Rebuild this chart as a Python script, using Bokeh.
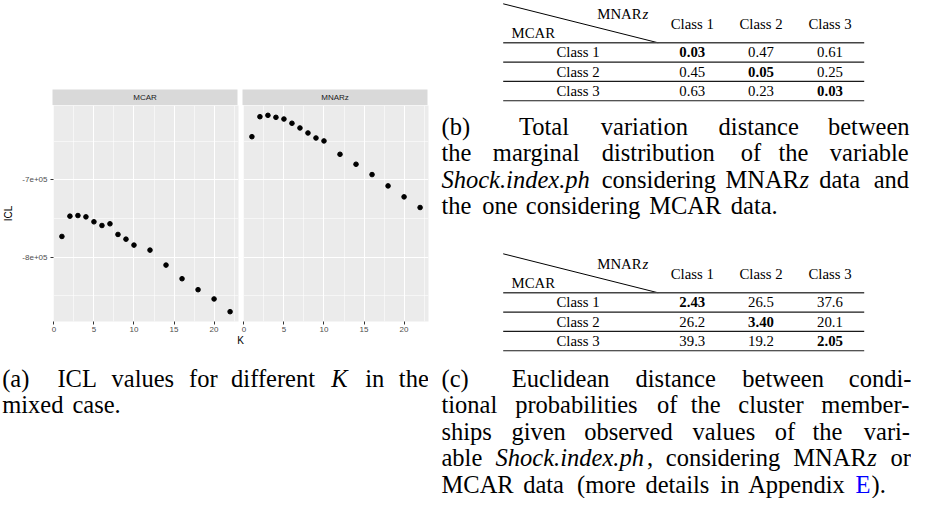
from bokeh.plotting import figure
from bokeh.layouts import column, row
from bokeh.models import Range1d, FixedTicker, ColumnDataSource, Spacer
from bokeh.core.properties import value
from bokeh.embed import file_html
from bokeh.resources import INLINE

# ---------------- data ----------------
K = [1, 2, 3, 4, 5, 6, 7, 8, 9, 10, 12, 14, 16, 18, 20, 22]
icl_mcar = [-773300, -747000, -746200, -747900, -754300, -759100, -756900, -770700,
            -776800, -784500, -791000, -810400, -828100, -842300, -854300, -870800]
icl_mnarz = [-644000, -618100, -616300, -618900, -621100, -626600, -632700, -639200,
             -645700, -649500, -666800, -679700, -693100, -707800, -722000, -735800]
facet_names = ["MCAR", "MNARz"]
x_ticks = [0, 5, 10, 15, 20]
x_minor = [2.5, 7.5, 12.5, 17.5, 22.5]
y_ticks = [-800000, -700000]
y_tick_labels = ["-8e+05", "-7e+05"]
y_minor = [-850000, -750000, -650000]
x_title = "K"
y_title = "ICL"

table_corner_top = [("MNAR", "rm"), ("z", "math")]
table_corner_bottom = "MCAR"
table_cols = ["Class 1", "Class 2", "Class 3"]
table_rows = ["Class 1", "Class 2", "Class 3"]
tv_values = [["0.03", "0.47", "0.61"], ["0.45", "0.05", "0.25"], ["0.63", "0.23", "0.03"]]
ed_values = [["2.43", "26.5", "37.6"], ["26.2", "3.40", "20.1"], ["39.3", "19.2", "2.05"]]

caption_a = [
    ["(a)", "ICL", "values", "for", "different", [("K", "math")], "in", "the"],
    ["mixed", "case."],
]
caption_b = [
    ["(b)", "Total", "variation", "distance", "between"],
    ["the", "marginal", "distribution", "of", "the", "variable"],
    [[("Shock.index.ph", "it")], "considering", [("MNAR", "rm"), ("z", "math")], "data", "and"],
    ["the", "one", "considering", "MCAR", "data."],
]
caption_c = [
    ["(c)", "Euclidean", "distance", "between", "condi-"],
    ["tional", "probabilities", "of", "the", "cluster", "member-"],
    ["ships", "given", "observed", "values", "of", "the", "vari-"],
    ["able", [("Shock.index.ph", "it"), (",", "rm")], "considering", [("MNAR", "rm"), ("z", "math")], "or"],
    ["MCAR", "data", "(more", "details", "in", "Appendix", [("E", "link"), (").", "rm")]],
]

# ---------------- text metrics (Computer Modern, em units) ----------------
CMR = dict(a=.5, b=.5556, c=.4444, d=.5556, e=.4444, f=.3056, g=.5, h=.5556, i=.2778, j=.3056,
           k=.5278, l=.2778, m=.8333, n=.5556, o=.5, p=.5556, q=.5278, r=.3917, s=.3944, t=.3889,
           u=.5556, v=.5278, w=.7222, x=.5278, y=.5278, z=.4444,
           A=.75, B=.7083, C=.7222, D=.7639, E=.6806, F=.6528, G=.7847, H=.75, I=.3611, J=.5139,
           K=.7778, L=.625, M=.9167, N=.75, O=.7778, P=.6806, Q=.7778, R=.7361, S=.5556, T=.7222,
           U=.75, V=.75, W=1.0278, X=.75, Y=.75, Z=.6111)
CMR.update({"(": .3889, ")": .3889, ".": .2778, ",": .2778, "-": .3333})
CMTI = dict(S=.5622, h=.5111, o=.5111, c=.46, k=.46, i=.3067, n=.5622, d=.5111, e=.46, x=.4644, p=.5111)
CMTI.update({".": .3067})
CMMI = dict(K=.8489, z=.4651)

CAP_EM = 23.5          # size of the original serif text, px
CAP_PX = 24.5          # Liberation Serif size giving similar word widths
CAP_FONT = "%.1fpx" % CAP_PX
MID = 0.3375 * CAP_PX  # baseline -> middle offset
LINE = 26.5            # caption baseline skip, px
SERIF = value("Liberation Serif")
SANS = value("Liberation Sans")


def seg_w(txt, kind):
    tab = CMTI if kind == "it" else CMMI if kind == "math" else CMR
    return sum(tab.get(ch, .5) for ch in txt)


def lay_caption(lines, x0, x1, base0, dy, label_factor=1.8):
    out = dict(x=[], y=[], text=[], style=[], color=[])
    F = CAP_EM
    for li, words in enumerate(lines):
        segs = [w if isinstance(w, list) else [(w, "rm")] for w in words]
        widths = [sum(seg_w(t, k) for t, k in s) * F for s in segs]
        n = len(segs)
        if li < len(lines) - 1:
            lf = label_factor if li == 0 else 1.0
            g = (x1 - x0 - sum(widths)) / ((n - 2) + lf)
            gaps = [lf * g] + [g] * (n - 2)
        else:
            gaps = [0.3333 * F * 1.05] * (n - 1)
        x = x0
        for i, s in enumerate(segs):
            sx = x
            for t, k in s:
                out["x"].append(sx)
                out["y"].append(base0 + li * dy - MID)
                out["text"].append(t)
                out["style"].append("italic" if k in ("it", "math") else "normal")
                out["color"].append("#0000FF" if k == "link" else "#000000")
                sx += seg_w(t, k) * F
            if i < n - 1:
                x += widths[i] + gaps[i]
    return out


def add_text(p, d, size, baseline="middle", align="left"):
    p.text(x="x", y="y", text="text", source=ColumnDataSource(d),
           text_font=SERIF, text_font_size=value(size), text_font_style="style",
           text_color="color", text_align=align, text_baseline=baseline)


# ---------------- ggplot-like facet panels ----------------
all_y = icl_mcar + icl_mnarz
ypad = 0.05 * (max(all_y) - min(all_y))
ylo, yhi = min(all_y) - ypad, max(all_y) + ypad
xpad = 0.05 * (max(K) - min(K))
xlo, xhi = min(K) - xpad, max(K) + xpad

FW, FH = 185, 216
L1, R1 = 52, 2     # borders of the MCAR column
L2, R2 = 3, 1      # borders of the MNARz column


def strip(name, left, right):
    s = figure(frame_width=FW, frame_height=16, x_range=Range1d(0, 1), y_range=Range1d(0, 1),
               output_backend="svg", toolbar_location=None, title=None,
               x_axis_location=None, y_axis_location=None,
               min_border_left=left, min_border_right=right, min_border_top=0, min_border_bottom=0)
    s.background_fill_color = "#D9D9D9"
    s.border_fill_color = "white"
    s.outline_line_color = None
    s.grid.visible = False
    s.text(x=[0.5], y=[0.5], text=[name], text_font=SANS, text_font_size=value("8px"),
           text_color="#1A1A1A", text_align="center", text_baseline="middle")
    return s


def panel(vals, left, right, show_y):
    p = figure(frame_width=FW, frame_height=FH, x_range=Range1d(xlo, xhi), y_range=Range1d(ylo, yhi),
               output_backend="svg", toolbar_location=None, title=None,
               y_axis_location="left" if show_y else None,
               min_border_left=left, min_border_right=right, min_border_top=0, min_border_bottom=14)
    p.background_fill_color = "#EBEBEB"
    p.border_fill_color = "white"
    p.outline_line_color = None
    p.xgrid.ticker = FixedTicker(ticks=x_ticks, minor_ticks=x_minor)
    p.ygrid.ticker = FixedTicker(ticks=y_ticks, minor_ticks=y_minor)
    for g in (p.xgrid[0], p.ygrid[0]):
        g.grid_line_color = "white"
        g.grid_line_width = 1.1
        g.minor_grid_line_color = "white"
        g.minor_grid_line_width = 0.55
    xa = p.xaxis[0]
    xa.ticker = FixedTicker(ticks=x_ticks, minor_ticks=x_minor)
    axes = [xa]
    if show_y:
        ya = p.yaxis[0]
        ya.ticker = FixedTicker(ticks=y_ticks, minor_ticks=y_minor)
        ya.major_label_overrides = dict(zip(y_ticks, y_tick_labels))
        ya.axis_label = y_title
        ya.axis_label_text_font = "Liberation Sans"
        ya.axis_label_text_font_style = "normal"
        ya.axis_label_text_font_size = "10px"
        ya.axis_label_text_color = "black"
        ya.axis_label_standoff = 5
        axes.append(ya)
    for a in axes:
        a.axis_line_color = None
        a.major_tick_line_color = "#333333"
        a.major_tick_line_width = 1
        a.major_tick_out = 3
        a.major_tick_in = 0
        a.minor_tick_line_color = None
        a.major_label_text_font = "Liberation Sans"
        a.major_label_text_font_size = "8px"
        a.major_label_text_color = "#4D4D4D"
        a.major_label_standoff = 2
    xa.major_label_standoff = 1
    p.scatter(K, vals, size=4.6, color="black")
    return p


s1 = strip(facet_names[0], L1, R1)
s2 = strip(facet_names[1], L2, R2)
p1 = panel(icl_mcar, L1, R1, True)
p2 = panel(icl_mnarz, L2, R2, False)

LEFT_W = L1 + FW + R1 + L2 + FW + R2   # 428

# caption (a) area, in page pixel coordinates
cap = figure(width=LEFT_W, height=498 - 335, x_range=Range1d(0, LEFT_W), y_range=Range1d(498, 335),
             output_backend="svg", toolbar_location=None, title=None,
             x_axis_location=None, y_axis_location=None, min_border=0)
cap.outline_line_color = None
cap.grid.visible = False
cap.text(x=[240], y=[340], text=[x_title], text_font=SANS, text_font_size=value("10px"),
         text_color="black", text_align="center", text_baseline="middle")
add_text(cap, lay_caption(caption_a, 1.7, 431, 386, LINE), CAP_FONT)

left = column(Spacer(width=LEFT_W, height=89), row(s1, s2), row(p1, p2), cap)

# ---------------- right column: tables + captions ----------------
rt = figure(width=910 - LEFT_W, height=498, x_range=Range1d(LEFT_W, 910), y_range=Range1d(498, 0),
            output_backend="svg", toolbar_location=None, title=None,
            x_axis_location=None, y_axis_location=None, min_border=0)
rt.outline_line_color = None
rt.grid.visible = False

TX0, TX1, TXD = 501.7, 862.7, 656.7
COLX = [690.8, 759.5, 828.5]
ROWX = 576.5
TFONT = "14.8px"


def table(values, top):
    hr = top + 39.0
    pitch = 19.3
    rt.segment(x0=[TX0], y0=[top], x1=[TXD], y1=[hr], line_color="black", line_width=1)
    rt.segment(x0=[TX0], y0=[hr], x1=[TX1], y1=[hr], line_color="#444444", line_width=1.6)
    ys = [hr + pitch * (i + 1) for i in range(3)]
    rt.segment(x0=[TX0] * 3, y0=ys, x1=[TX1] * 3, y1=ys, line_color="#1a1a1a", line_width=1.1)
    zw = CMMI["z"] * 14.1
    d = dict(x=[646.7 - zw, 646.7], y=[top + 10.5] * 2,
             text=[table_corner_top[0][0], table_corner_top[1][0]],
             style=["normal", "italic"], color=["#000000"] * 2)
    add_text(rt, d, TFONT, align="right")
    add_text(rt, dict(x=[510], y=[top + 29.4], text=[table_corner_bottom], style=["normal"],
                      color=["#000000"]), TFONT, align="left")
    d = dict(x=[], y=[], text=[], style=[], color=[])
    for j, c in enumerate(table_cols):
        d["x"].append(COLX[j]); d["y"].append(top + 20.0); d["text"].append(c)
        d["style"].append("normal"); d["color"].append("#000000")
    for i, r in enumerate(table_rows):
        yc = hr + pitch * (i + 0.5)
        d["x"].append(ROWX); d["y"].append(yc); d["text"].append(r)
        d["style"].append("normal"); d["color"].append("#000000")
        for j in range(3):
            d["x"].append(COLX[j]); d["y"].append(yc); d["text"].append(values[i][j])
            d["style"].append("bold" if i == j else "normal"); d["color"].append("#000000")
    add_text(rt, d, TFONT, align="center")


table(tv_values, 3.3)
table(ed_values, 253.3)
add_text(rt, lay_caption(caption_b, 440, 910, 134, LINE), CAP_FONT)
add_text(rt, lay_caption(caption_c, 440, 910, 386, LINE), CAP_FONT)

layout = row(left, rt)
open("out.html", "w").write(file_html(layout, INLINE))
